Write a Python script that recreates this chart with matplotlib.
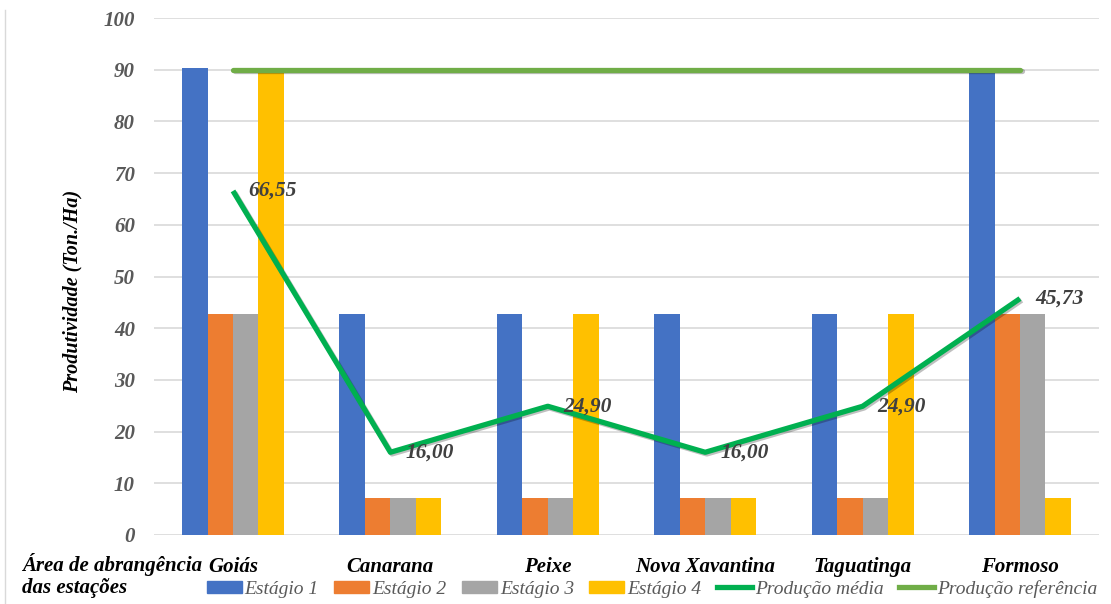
import matplotlib

matplotlib.use("Agg")

import matplotlib.pyplot as plt  # noqa: E402
import matplotlib.patheffects as pe  # noqa: E402
import numpy as np  # noqa: E402
from matplotlib.lines import Line2D  # noqa: E402
from matplotlib.patches import Patch  # noqa: E402

plt.rcParams["font.family"] = ["Liberation Serif", "DejaVu Serif"]

# Produtividade por estação (Ton./Ha)
estacoes = ["Goiás", "Canarana", "Peixe", "Nova Xavantina", "Taguatinga", "Formoso"]
estagio_1 = [90.4, 42.7, 42.7, 42.7, 42.7, 90.4]
estagio_2 = [42.7, 7.1, 7.1, 7.1, 7.1, 42.7]
estagio_3 = [42.7, 7.1, 7.1, 7.1, 7.1, 42.7]
estagio_4 = [90.4, 7.1, 42.7, 7.1, 42.7, 7.1]
producao_media = [66.55, 16.00, 24.90, 16.00, 24.90, 45.73]
producao_referencia = [90, 90, 90, 90, 90, 90]
y_ticks = [0, 10, 20, 30, 40, 50, 60, 70, 80, 90, 100]

cores_barras = ["#4472C4", "#ED7D31", "#A5A5A5", "#FFC000"]
cor_media = "#00B050"
cor_referencia = "#70AD47"
cinza_texto = "#595959"

W, H = 1111, 604
fig = plt.figure(figsize=(W / 100, H / 100), dpi=100)
ax = fig.add_axes([154.3 / W, 1 - 535 / H, 944.4 / W, 517 / H])

x = np.arange(len(estacoes))
largura = 0.162
series = [estagio_1, estagio_2, estagio_3, estagio_4]
for k, (valores, cor) in enumerate(zip(series, cores_barras)):
    ax.bar(x + (k - 1.5) * largura, valores, width=largura, color=cor, zorder=2)

sombra = [pe.SimpleLineShadow(offset=(1.2, -1.2), alpha=0.25), pe.Normal()]
ax.plot(x, producao_referencia, color=cor_referencia, lw=3.8,
        solid_capstyle="round", zorder=3, path_effects=sombra)
ax.plot(x, producao_media, color=cor_media, lw=3.8,
        solid_joinstyle="round", solid_capstyle="butt", zorder=4, path_effects=sombra)

for xi, v in zip(x, producao_media):
    ax.annotate(f"{v:.2f}".replace(".", ","), (xi, v), xytext=(15, 0),
                textcoords="offset pixels", ha="left", va="center",
                fontsize=15.5, fontweight="bold", fontstyle="italic",
                color="#404040", zorder=5)

ax.set_xlim(-0.5, len(estacoes) - 0.5)
ax.set_ylim(0, 100)
ax.set_yticks(y_ticks)
ax.set_xticks(x, estacoes)
ax.tick_params(axis="both", length=0)
ax.tick_params(axis="x", pad=16, labelsize=15)
ax.tick_params(axis="y", pad=14, labelsize=15, labelcolor=cinza_texto)
for lbl in ax.get_xticklabels() + ax.get_yticklabels():
    lbl.set_fontweight("bold")
    lbl.set_fontstyle("italic")

ax.set_ylabel("Produtividade (Ton./Ha)", fontsize=14.5, fontweight="bold",
              fontstyle="italic", color="black")
ax.yaxis.set_label_coords(-0.076, 0.472)

ax.grid(axis="y", color="#d9d9d9", lw=1.2, zorder=0)
ax.set_axisbelow(True)
for spine in ax.spines.values():
    spine.set_visible(False)

fig.text(22 / W, 1 - 565 / H, "Área de abrangência", ha="left", va="center",
         fontsize=15, fontweight="bold", fontstyle="italic")
fig.text(22 / W, 1 - 588 / H, "das estações", ha="left", va="center",
         fontsize=15, fontweight="bold", fontstyle="italic")

# borda esquerda do quadro do gráfico
fig.add_artist(Line2D([5 / W, 5 / W], [0, 1 - 10 / H], color="#d9d9d9", lw=1.0))

handles = [Patch(color=c) for c in cores_barras] + [
    Line2D([], [], color=cor_media, lw=3.8),
    Line2D([], [], color=cor_referencia, lw=3.8),
]
rotulos = ["Estágio 1", "Estágio 2", "Estágio 3", "Estágio 4",
           "Produção média", "Produção referência"]
leg = fig.legend(handles, rotulos, loc="center", bbox_to_anchor=(652 / W, 1 - 589 / H),
                 ncol=6, frameon=False, handlelength=1.8, handleheight=0.6,
                 handletextpad=0.15, columnspacing=0.8, borderaxespad=0,
                 prop={"size": 14, "style": "italic"})
for t in leg.get_texts():
    t.set_color(cinza_texto)

fig.savefig("out.png", dpi=100)
